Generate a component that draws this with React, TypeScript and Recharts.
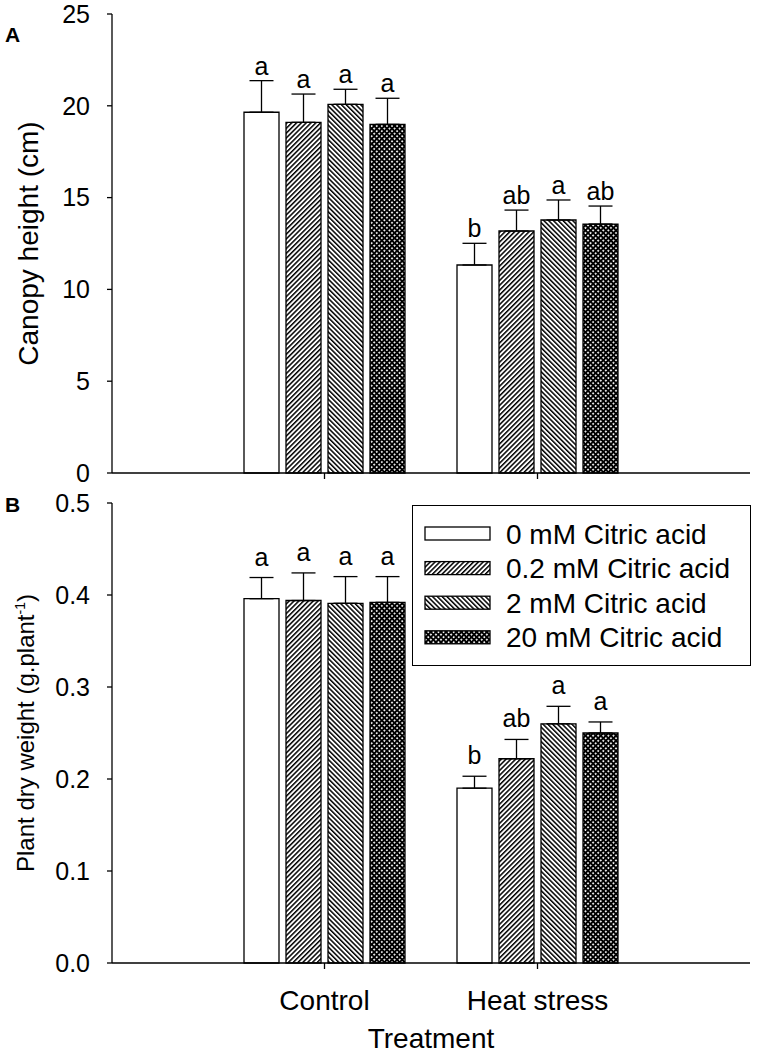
import React from 'react';
import { BarChart, Bar, XAxis, YAxis, ErrorBar, LabelList, Label } from 'recharts';

const categories = ['Control', 'Heat stress'];
const seriesNames = ['0 mM Citric acid', '0.2 mM Citric acid', '2 mM Citric acid', '20 mM Citric acid'];
const seriesFills = ['#ffffff', 'url(#hatchFwd)', 'url(#hatchBack)', 'url(#hatchCross)'];

// Panel A: canopy height (cm) — rows = categories, columns = series
const canopyMean = [
  [19.65, 19.1, 20.08, 18.99],
  [11.33, 13.18, 13.78, 13.56],
];
const canopyErr = [
  [1.72, 1.54, 0.82, 1.42],
  [1.18, 1.14, 1.09, 0.98],
];
const canopyLetters = [
  ['a', 'a', 'a', 'a'],
  ['b', 'ab', 'a', 'ab'],
];
const canopyTicks = [0, 5, 10, 15, 20, 25];

// Panel B: plant dry weight (g.plant-1)
const dryMean = [
  [0.396, 0.394, 0.391, 0.392],
  [0.19, 0.222, 0.26, 0.25],
];
const dryErr = [
  [0.023, 0.03, 0.029, 0.028],
  [0.013, 0.021, 0.019, 0.012],
];
const dryLetters = [
  ['a', 'a', 'a', 'a'],
  ['b', 'ab', 'a', 'a'],
];
const dryTicks = [0, 0.1, 0.2, 0.3, 0.4, 0.5];

const buildRows = (mean: number[][], err: number[][], letters: string[][]) =>
  categories.map((c, i) => {
    const r: any = { cat: c };
    seriesNames.forEach((_, j) => {
      r['s' + j] = mean[i][j];
      r['e' + j] = [0, err[i][j]];
      r['l' + j] = letters[i][j];
    });
    return r;
  });

const rowsA = buildRows(canopyMean, canopyErr, canopyLetters);
const rowsB = buildRows(dryMean, dryErr, dryLetters);

const FONT = "'Liberation Sans', Arial, sans-serif";
const INK = '#000';
const SW = 1.3;

const makeLabel = (rows: any[], j: number, gap: number) => (p: any) => {
  const vb = p.viewBox || {};
  const x = p.x ?? vb.x;
  const y = p.y ?? vb.y;
  const w = p.width ?? vb.width;
  const h = p.height ?? vb.height;
  const row = rows[p.index];
  if (!row) return null;
  const v = row['s' + j];
  const e = row['e' + j][1];
  const yTop = Math.min(y, y + h) - (Math.abs(h) * e) / v;
  return (
    <text x={x + w / 2} y={yTop - gap} textAnchor="middle" fontSize={25} fill={INK} fontFamily={FONT}>
      {p.value}
    </text>
  );
};

const yTitle = (children: React.ReactNode, dx: number, size: number) => (p: any) => {
  const vb = p.viewBox || {};
  const cx = (vb.x ?? 0) + dx;
  const cy = (vb.y ?? 0) + (vb.height ?? 0) / 2;
  return (
    <text x={cx} y={cy} transform={`rotate(-90, ${cx}, ${cy})`} textAnchor="middle" fontSize={size} fill={INK} fontFamily={FONT}>
      {children}
    </text>
  );
};

const Patterns = () => (
  <svg width={0} height={0} style={{ position: 'absolute', left: 0, top: 0 }}>
    <defs>
      <pattern id="hatchFwd" patternUnits="userSpaceOnUse" width={3.4} height={3.4} patternTransform="rotate(45)">
        <rect x={0} y={0} width={3.4} height={3.4} fill="#fff" />
        <rect x={0} y={0} width={1.5} height={3.4} fill="#000" />
      </pattern>
      <pattern id="hatchBack" patternUnits="userSpaceOnUse" width={3.4} height={3.4} patternTransform="rotate(-45)">
        <rect x={0} y={0} width={3.4} height={3.4} fill="#fff" />
        <rect x={0} y={0} width={1.5} height={3.4} fill="#000" />
      </pattern>
      <pattern id="hatchCross" patternUnits="userSpaceOnUse" width={3.6} height={3.6} patternTransform="rotate(45)">
        <rect x={0} y={0} width={3.6} height={3.6} fill="#fff" />
        <rect x={0} y={0} width={1.9} height={3.6} fill="#000" />
        <rect x={0} y={0} width={3.6} height={1.9} fill="#000" />
      </pattern>
    </defs>
  </svg>
);

const renderBars = (rows: any[], gap: number) =>
  seriesNames.map((name, j) => (
    <Bar
      key={name}
      name={name}
      dataKey={'s' + j}
      fill={seriesFills[j]}
      stroke={INK}
      strokeWidth={SW}
      isAnimationActive={false}
    >
      <ErrorBar dataKey={'e' + j} width={12} stroke={INK} strokeWidth={SW} direction="y" isAnimationActive={false} />
      <LabelList dataKey={'l' + j} content={makeLabel(rows, j, gap)} />
    </Bar>
  ));

const frameAxes = (domain: [number, number]) => [
  <XAxis
    key="top"
    xAxisId="top"
    orientation="top"
    dataKey="cat"
    height={0}
    tick={false}
    tickLine={false}
    stroke={INK}
    strokeWidth={SW}
    padding={{ left: 106, right: 106 }}
  />,
  <YAxis
    key="right"
    yAxisId="right"
    orientation="right"
    width={0}
    domain={domain}
    tick={false}
    tickLine={false}
    stroke={INK}
    strokeWidth={SW}
  />,
];

const Legend = () => (
  <div
    style={{
      position: 'absolute',
      left: 412,
      top: 505,
      width: 339,
      height: 161,
      boxSizing: 'border-box',
      border: `${SW}px solid ${INK}`,
      background: '#fff',
    }}
  >
    <svg width={336} height={158} style={{ display: 'block' }}>
      {seriesNames.map((name, j) => (
        <g key={name}>
          <rect x={12} y={21 + j * 34.6} width={65} height={13} fill={seriesFills[j]} stroke={INK} strokeWidth={SW} />
          <text x={93} y={28 + j * 34.6} dominantBaseline="central" fontSize={28} fill={INK} fontFamily={FONT}>
            {name}
          </text>
        </g>
      ))}
    </svg>
  </div>
);

export default function App() {
  return (
    <div style={{ position: 'absolute', left: 0, top: 0, width: 758, height: 1055, fontFamily: FONT, background: '#fff' }}>
      <Patterns />
      <div style={{ position: 'absolute', left: 0, top: 0 }}>
        <BarChart width={758} height={490} data={rowsA} margin={{ top: 14, right: 8, left: 0, bottom: 0 }} barSize={35} barGap={7}>
          {frameAxes([0, 25])}
          <XAxis
            dataKey="cat"
            height={17}
            stroke={INK}
            strokeWidth={SW}
            tickSize={6}
            tickFormatter={() => ''}
            padding={{ left: 106, right: 106 }}
          />
          <YAxis
            width={112}
            domain={[0, 25]}
            ticks={canopyTicks}
            stroke={INK}
            strokeWidth={SW}
            tickSize={5}
            tickMargin={17}
            tick={{ fill: INK, fontSize: 25, fontFamily: FONT }}
            interval={0}
          >
            <Label content={yTitle('Canopy height (cm)', 38, 28)} />
          </YAxis>
          {renderBars(rowsA, 6)}
        </BarChart>
      </div>
      <div style={{ position: 'absolute', left: 0, top: 490 }}>
        <BarChart width={758} height={565} data={rowsB} margin={{ top: 13, right: 8, left: 0, bottom: 0 }} barSize={35} barGap={7}>
          {frameAxes([0, 0.5])}
          <XAxis
            dataKey="cat"
            height={92}
            stroke={INK}
            strokeWidth={SW}
            tickSize={6}
            tickMargin={21}
            tick={{ fill: INK, fontSize: 28, fontFamily: FONT }}
            padding={{ left: 106, right: 106 }}
            interval={0}
          >
            <Label value="Treatment" position="insideBottom" offset={7} fontSize={28} fill={INK} fontFamily={FONT} />
          </XAxis>
          <YAxis
            width={112}
            domain={[0, 0.5]}
            ticks={dryTicks}
            stroke={INK}
            strokeWidth={SW}
            tickSize={5}
            tickMargin={17}
            tick={{ fill: INK, fontSize: 25, fontFamily: FONT }}
            tickFormatter={(v: number) => v.toFixed(1)}
            interval={0}
          >
            <Label
              content={yTitle(
                <>
                  Plant dry weight (g.plant
                  <tspan dy={-9} fontSize={14}>-1</tspan>
                  <tspan dy={9}>)</tspan>
                </>,
                34,
                24
              )}
            />
          </YAxis>
          {renderBars(rowsB, 12)}
        </BarChart>
      </div>
      <Legend />
      <svg width={758} height={1055} style={{ position: 'absolute', left: 0, top: 0, pointerEvents: 'none' }}>
        <text x={5} y={42} fontSize={21} fontWeight="bold" fill={INK} fontFamily={FONT}>A</text>
        <text x={5} y={512} fontSize={21} fontWeight="bold" fill={INK} fontFamily={FONT}>B</text>
      </svg>
    </div>
  );
}
